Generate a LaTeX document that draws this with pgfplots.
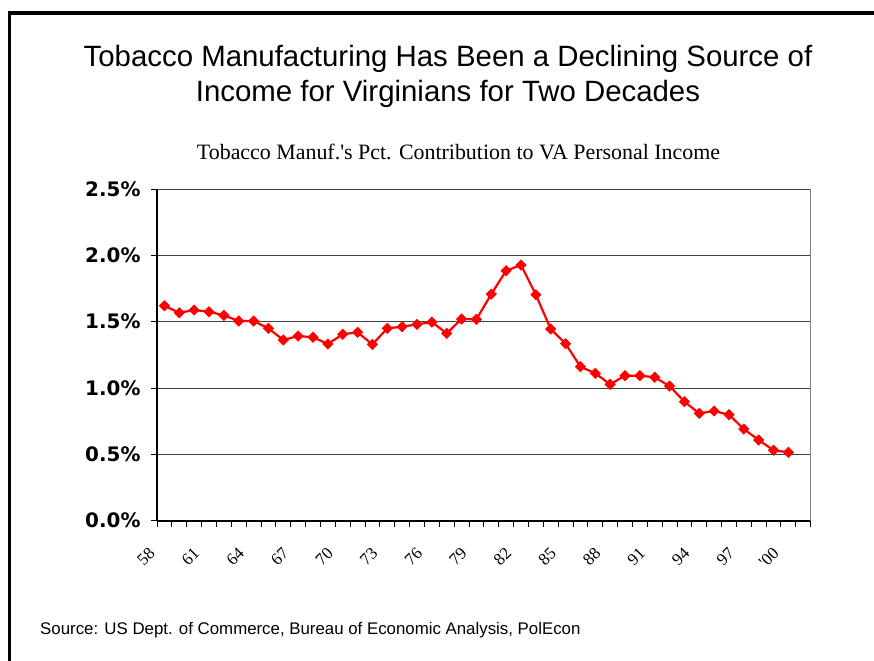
\documentclass[border=0pt]{standalone}
\usepackage{pgfplots}
\pgfplotsset{compat=1.18}
\usepackage{fontspec}
\setmainfont{Liberation Sans}
\newfontfamily\seriffont{Liberation Serif}
\newfontfamily\verdanafont{DejaVu Sans}
\begin{document}
\begin{tikzpicture}[x=1bp,y=1bp]
\path[use as bounding box] (0,0) rectangle (874,-661);
\draw[line width=3.5bp, line join=miter] (9.5,-661) -- (9.5,-13) -- (874,-13);
\node[anchor=base, inner sep=0pt, font=\fontsize{29.5}{34}\selectfont] at (448,-67) {Tobacco Manufacturing Has Been a Declining Source of};
\node[anchor=base, inner sep=0pt, font=\fontsize{29.5}{34}\selectfont] at (448,-102) {Income for Virginians for Two Decades};
\node[anchor=base, inner sep=0pt, font=\seriffont\fontsize{22}{26}\selectfont] at (458.5,-160) {Tobacco Manuf.'s Pct. Contribution to VA Personal Income};
\node[anchor=base west, inner sep=0pt, font=\fontsize{16.9}{20}\selectfont] at (40,-634) {Source: US Dept. of Commerce, Bureau of Economic Analysis, PolEcon};
\begin{axis}[
  at={(157bp,-520.7bp)}, anchor=south west,
  width=653.7bp, height=331.7bp, scale only axis,
  xmin=57.5, xmax=101.5, ymin=0, ymax=2.5,
  axis lines*=left,
  axis line style={black, line width=1.6bp},
  ytick={0,0.5,1,1.5,2,2.5},
  minor ytick={0,0.5,1,1.5,2,2.5},
  yticklabels={0.0\%,0.5\%,1.0\%,1.5\%,2.0\%,2.5\%},
  yticklabel style={font=\verdanafont\bfseries\fontsize{20}{20}\selectfont, xshift=-13bp},
  ymajorgrids,
  grid style={black!75, line width=0.9bp},
  xtick={58,61,64,67,70,73,76,79,82,85,88,91,94,97,100},
  xticklabels={58,61,64,67,70,73,76,79,82,85,88,91,94,97,'00},
  minor xtick={57.5,58.5,...,101.5},
  xticklabel style={font=\seriffont\fontsize{17}{17}\selectfont, xshift=-10bp, yshift=-27bp, rotate=45, anchor=east},
  tick align=outside,
  major tick length=0pt,
  minor tick length=6bp,
  tick style={black, line width=1bp},
  clip=false,
]
\addplot[color=red, line width=2.2bp, mark=square*, mark size=3.7bp, mark options={fill=red, draw=red, rotate=45, line width=0.5bp}] coordinates {
(58,1.620) (59,1.567) (60,1.588) (61,1.575) (62,1.548) (63,1.505) (64,1.505)
(65,1.450) (66,1.362) (67,1.392) (68,1.383) (69,1.332) (70,1.405) (71,1.420)
(72,1.329) (73,1.450) (74,1.462) (75,1.480) (76,1.497) (77,1.412) (78,1.520)
(79,1.518) (80,1.708) (81,1.884) (82,1.927) (83,1.703) (84,1.445) (85,1.334)
(86,1.161) (87,1.111) (88,1.028) (89,1.093) (90,1.093) (91,1.081) (92,1.015)
(93,0.897) (94,0.809) (95,0.827) (96,0.799) (97,0.691) (98,0.608) (99,0.531)
(100,0.515)
};
\draw[gray, line width=1.2bp] (axis cs:101.5,0) -- (axis cs:101.5,2.5);
\end{axis}
\end{tikzpicture}
\end{document}
